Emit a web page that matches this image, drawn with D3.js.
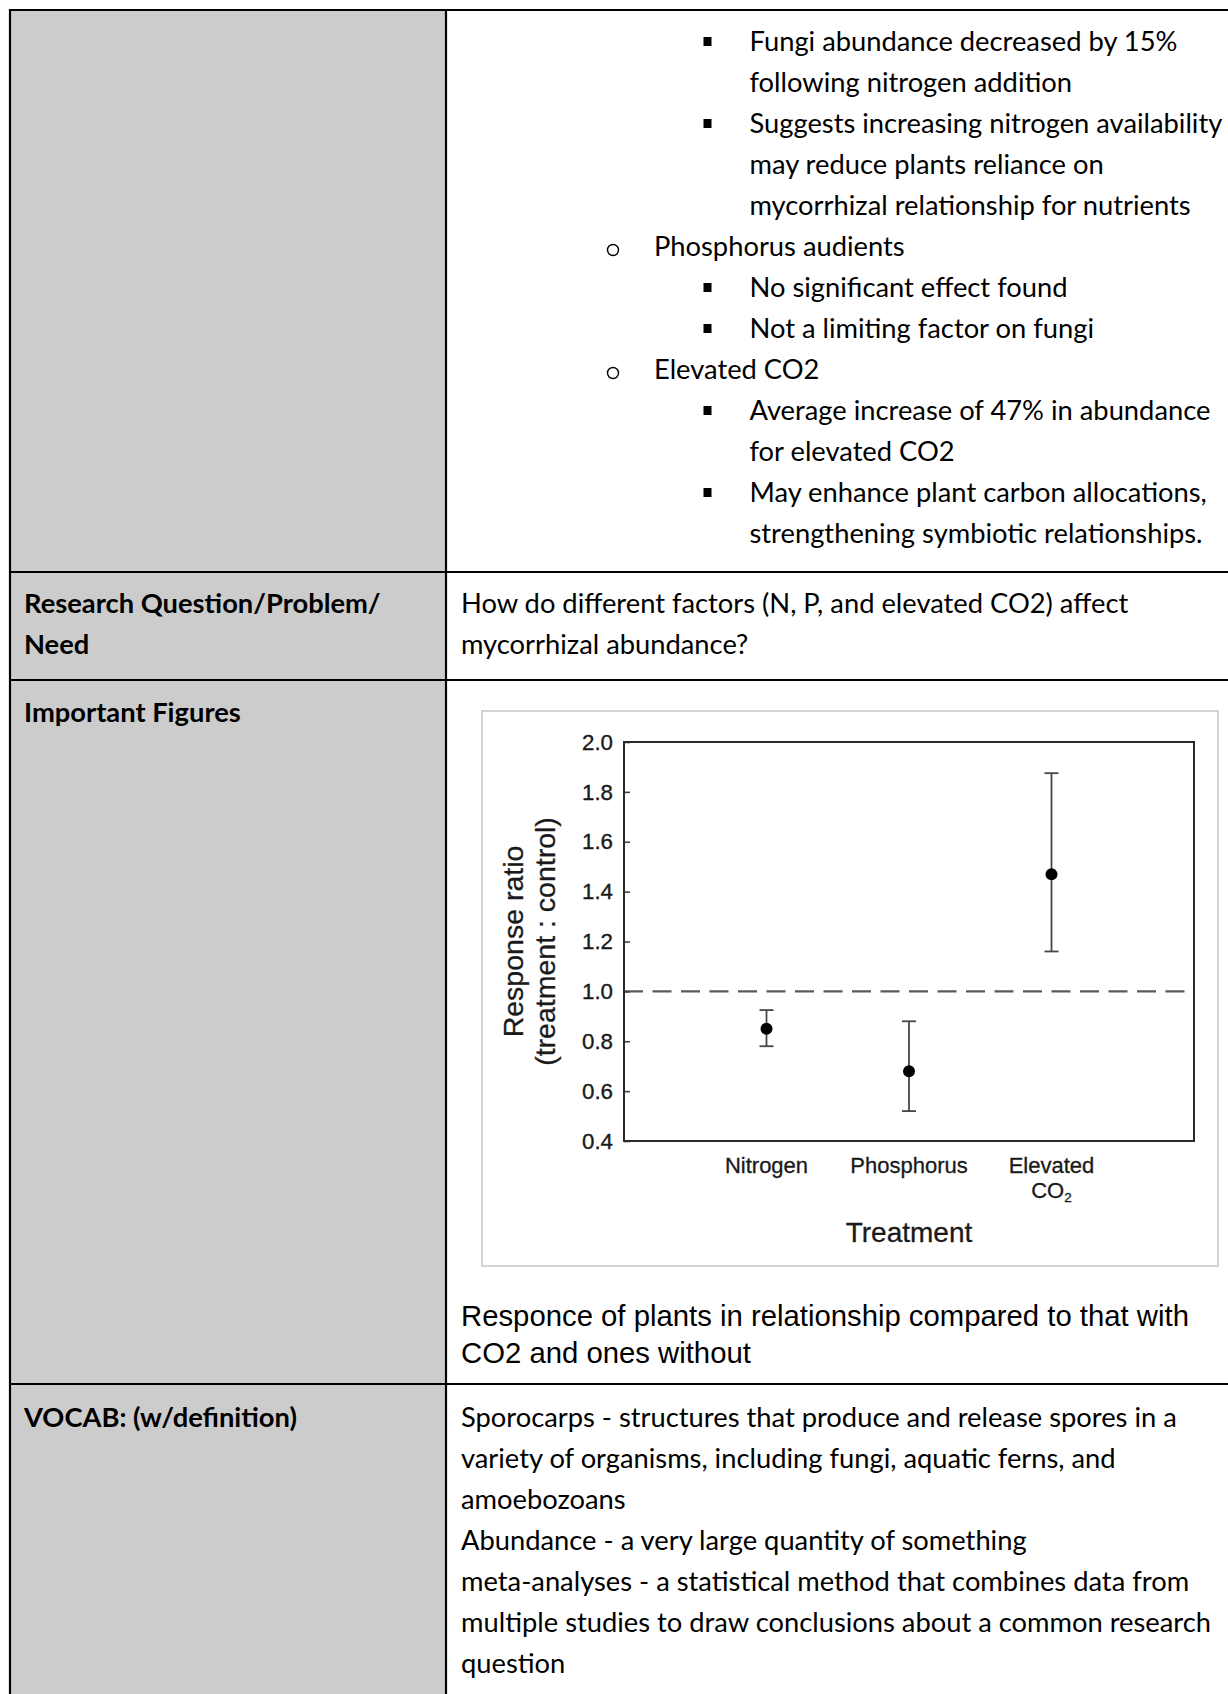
<!DOCTYPE html>
<html>
<head>
<meta charset="utf-8">
<script src="https://cdn.jsdelivr.net/npm/d3@7"></script>
<style>
  html, body { margin: 0; padding: 0; background: #ffffff; }
  svg { display: block; }
</style>
</head>
<body>
<svg id="page" width="1228" height="1694"></svg>
<script>
// ---------------- DATA ----------------
const categories = ["Nitrogen", "Phosphorus", "Elevated CO2"];
const meanValues = [0.85, 0.68, 1.47];
const lowerValues = [0.78, 0.52, 1.16];
const upperValues = [0.925, 0.88, 1.875];
const yTickValues = [0.4, 0.6, 0.8, 1.0, 1.2, 1.4, 1.6, 1.8, 2.0];
const referenceValue = 1.0;
const yTitleLines = ["Response ratio", "(treatment : control)"];
const xTitle = "Treatment";

const row1Items = [
  { level: 2, bullet: true,  text: "Fungi abundance decreased by 15%" },
  { level: 2, bullet: false, text: "following nitrogen addition" },
  { level: 2, bullet: true,  text: "Suggests increasing nitrogen availability" },
  { level: 2, bullet: false, text: "may reduce plants reliance on" },
  { level: 2, bullet: false, text: "mycorrhizal relationship for nutrients" },
  { level: 1, bullet: true,  text: "Phosphorus audients" },
  { level: 2, bullet: true,  text: "No significant effect found" },
  { level: 2, bullet: true,  text: "Not a limiting factor on fungi" },
  { level: 1, bullet: true,  text: "Elevated CO2" },
  { level: 2, bullet: true,  text: "Average increase of 47% in abundance" },
  { level: 2, bullet: false, text: "for elevated CO2" },
  { level: 2, bullet: true,  text: "May enhance plant carbon allocations," },
  { level: 2, bullet: false, text: "strengthening symbiotic relationships." }
];
const row2Left = ["Research Question/Problem/", "Need"];
const row2Right = ["How do different factors (N, P, and elevated CO2) affect", "mycorrhizal abundance?"];
const row3Left = ["Important Figures"];
const captionLines = ["Responce of plants in relationship compared to that with", "CO2 and ones without"];
const row4Left = ["VOCAB: (w/definition)"];
const row4Right = [
  "Sporocarps - structures that produce and release spores in a",
  "variety of organisms, including fungi, aquatic ferns, and",
  "amoebozoans",
  "Abundance - a very large quantity of something",
  "meta-analyses - a statistical method that combines data from",
  "multiple studies to draw conclusions about a common research",
  "question"
];

// ---------------- LAYOUT ----------------
const svg = d3.select("#page");
const W = 1228, H = 1694;
const tableLeft = 10, colDiv = 446, rowLines = [10, 572, 680, 1384];
const lineH = 41;
const bodyFamily = "Lato, 'Open Sans', sans-serif";
const figFamily = "'Liberation Sans', Arial, Helvetica, sans-serif";
const figInk = "#1a1a1a";

svg.append("rect").attr("x", 0).attr("y", 0).attr("width", W).attr("height", H).attr("fill", "#ffffff");
svg.append("rect").attr("x", tableLeft).attr("y", rowLines[0]).attr("width", colDiv - tableLeft)
  .attr("height", H - rowLines[0] + 10).attr("fill", "#cccccc");

// fit body font size to the reference width of a known line
const probe = svg.append("text").attr("font-family", bodyFamily).attr("font-size", 100).text(row4Right[0]);
const probeLen = probe.node().getComputedTextLength();
probe.remove();
let bodySize = 100 * 716 / probeLen;
if (!isFinite(bodySize) || bodySize < 22 || bodySize > 32) bodySize = 27;

function textLines(lines, x, y0, opts) {
  const g = svg.append("g");
  g.selectAll("text").data(lines).join("text")
    .attr("x", x)
    .attr("y", (d, i) => y0 + i * lineH)
    .attr("font-family", bodyFamily)
    .attr("font-size", bodySize)
    .attr("font-weight", opts && opts.bold ? 700 : 400)
    .attr("fill", "#000")
    .text(d => d);
  return g;
}

// Row 1 list
const lvlText = { 1: 654, 2: 749.5 };
const lvlBullet = { 1: 613, 2: 707.5 };
const r1 = svg.append("g");
row1Items.forEach((d, i) => {
  const by = 51 + i * lineH;
  r1.append("text").attr("x", lvlText[d.level]).attr("y", by)
    .attr("font-family", bodyFamily).attr("font-size", bodySize).attr("fill", "#000").text(d.text);
  if (d.bullet) {
    if (d.level === 2) {
      r1.append("rect").attr("x", lvlBullet[2] - 4).attr("y", by - 14).attr("width", 8).attr("height", 9).attr("fill", "#000");
    } else {
      r1.append("circle").attr("cx", lvlBullet[1]).attr("cy", by - 6).attr("r", 5.5)
        .attr("fill", "none").attr("stroke", "#000").attr("stroke-width", 1.4);
    }
  }
});

textLines(row2Left, 24, 613, { bold: true });
textLines(row2Right, 461, 613);
textLines(row3Left, 24, 722, { bold: true });
textLines(row4Left, 24, 1427, { bold: true });
textLines(row4Right, 461, 1427);

// caption
svg.append("g").selectAll("text").data(captionLines).join("text")
  .attr("x", 461).attr("y", (d, i) => 1326 + i * 37)
  .attr("font-family", figFamily).attr("font-size", 29.3).attr("fill", "#000").text(d => d);

// ---------------- FIGURE ----------------
const frame = { x0: 482, y0: 711, x1: 1218, y1: 1266 };
svg.append("rect").attr("x", frame.x0).attr("y", frame.y0)
  .attr("width", frame.x1 - frame.x0).attr("height", frame.y1 - frame.y0)
  .attr("fill", "#ffffff").attr("stroke", "#c9c9c4").attr("stroke-width", 1.6);

const plot = { left: 624, right: 1194, top: 742, bottom: 1141 };
const x = d3.scalePoint().domain(categories).range([plot.left, plot.right]).padding(1);
const y = d3.scaleLinear().domain([0.4, 2.0]).range([plot.bottom, plot.top]);

const fig = svg.append("g");

// reference dashed line
fig.append("line")
  .attr("x1", plot.left).attr("x2", plot.right)
  .attr("y1", y(referenceValue)).attr("y2", y(referenceValue))
  .attr("stroke", "#5a5a5a").attr("stroke-width", 2.4).attr("stroke-dasharray", "19,9.5");

// y axis
const yAxis = d3.axisLeft(y).tickValues(yTickValues).tickFormat(d3.format(".1f"))
  .tickSizeInner(-6).tickSizeOuter(0).tickPadding(11);
const ya = fig.append("g").attr("transform", `translate(${plot.left},0)`).call(yAxis);
ya.select(".domain").remove();
ya.selectAll(".tick line").attr("stroke", "#444").attr("stroke-width", 1.6);
ya.selectAll(".tick text").attr("font-family", figFamily).attr("font-size", 22.3)
  .attr("fill", figInk).attr("stroke", figInk).attr("stroke-width", 0.35);

// frame of plot
fig.append("rect").attr("x", plot.left).attr("y", plot.top)
  .attr("width", plot.right - plot.left).attr("height", plot.bottom - plot.top)
  .attr("fill", "none").attr("stroke", "#2a2a2a").attr("stroke-width", 2);

// error bars
const pts = categories.map((c, i) => ({ c, m: meanValues[i], lo: lowerValues[i], hi: upperValues[i] }));
const eb = fig.append("g").attr("stroke", "#474747").attr("stroke-width", 1.8);
eb.selectAll(".v").data(pts).join("line").attr("class", "v")
  .attr("x1", d => x(d.c)).attr("x2", d => x(d.c)).attr("y1", d => y(d.lo)).attr("y2", d => y(d.hi));
eb.selectAll(".cl").data(pts).join("line").attr("class", "cl")
  .attr("x1", d => x(d.c) - 7).attr("x2", d => x(d.c) + 7).attr("y1", d => y(d.lo)).attr("y2", d => y(d.lo));
eb.selectAll(".ch").data(pts).join("line").attr("class", "ch")
  .attr("x1", d => x(d.c) - 7).attr("x2", d => x(d.c) + 7).attr("y1", d => y(d.hi)).attr("y2", d => y(d.hi));
fig.selectAll(".dot").data(pts).join("circle").attr("class", "dot")
  .attr("cx", d => x(d.c)).attr("cy", d => y(d.m)).attr("r", 6).attr("fill", "#000");

// category labels
const catG = fig.append("g").attr("font-family", figFamily).attr("font-size", 22).attr("fill", figInk)
  .attr("stroke", figInk).attr("stroke-width", 0.3).attr("text-anchor", "middle");
categories.forEach(c => {
  if (c === "Elevated CO2") {
    catG.append("text").attr("x", x(c)).attr("y", plot.bottom + 32).text("Elevated");
    const t = catG.append("text").attr("x", x(c)).attr("y", plot.bottom + 57);
    t.append("tspan").text("CO");
    t.append("tspan").attr("font-size", 13.5).attr("dy", 4).text("2");
  } else {
    catG.append("text").attr("x", x(c)).attr("y", plot.bottom + 32).text(c);
  }
});

// axis titles
fig.append("text").attr("x", (plot.left + plot.right) / 2).attr("y", plot.bottom + 101)
  .attr("text-anchor", "middle").attr("font-family", figFamily).attr("font-size", 28)
  .attr("fill", figInk).attr("stroke", figInk).attr("stroke-width", 0.3).text(xTitle);
const yMid = (plot.top + plot.bottom) / 2;
fig.selectAll(".ytitle").data(yTitleLines).join("text").attr("class", "ytitle")
  .attr("transform", (d, i) => `translate(${523 + i * 32},${yMid}) rotate(-90)`)
  .attr("text-anchor", "middle").attr("font-family", figFamily).attr("font-size", 28.5)
  .attr("fill", figInk).attr("stroke", figInk).attr("stroke-width", 0.3)
  .text(d => d);

// ---------------- TABLE BORDERS ----------------
const bg = svg.append("g").attr("stroke", "#000").attr("stroke-width", 2.2);
rowLines.forEach(yy => bg.append("line").attr("x1", tableLeft - 1).attr("x2", W).attr("y1", yy).attr("y2", yy));
bg.append("line").attr("x1", tableLeft).attr("x2", tableLeft).attr("y1", rowLines[0] - 1).attr("y2", H);
bg.append("line").attr("x1", colDiv).attr("x2", colDiv).attr("y1", rowLines[0] - 1).attr("y2", H);
</script>
</body>
</html>
